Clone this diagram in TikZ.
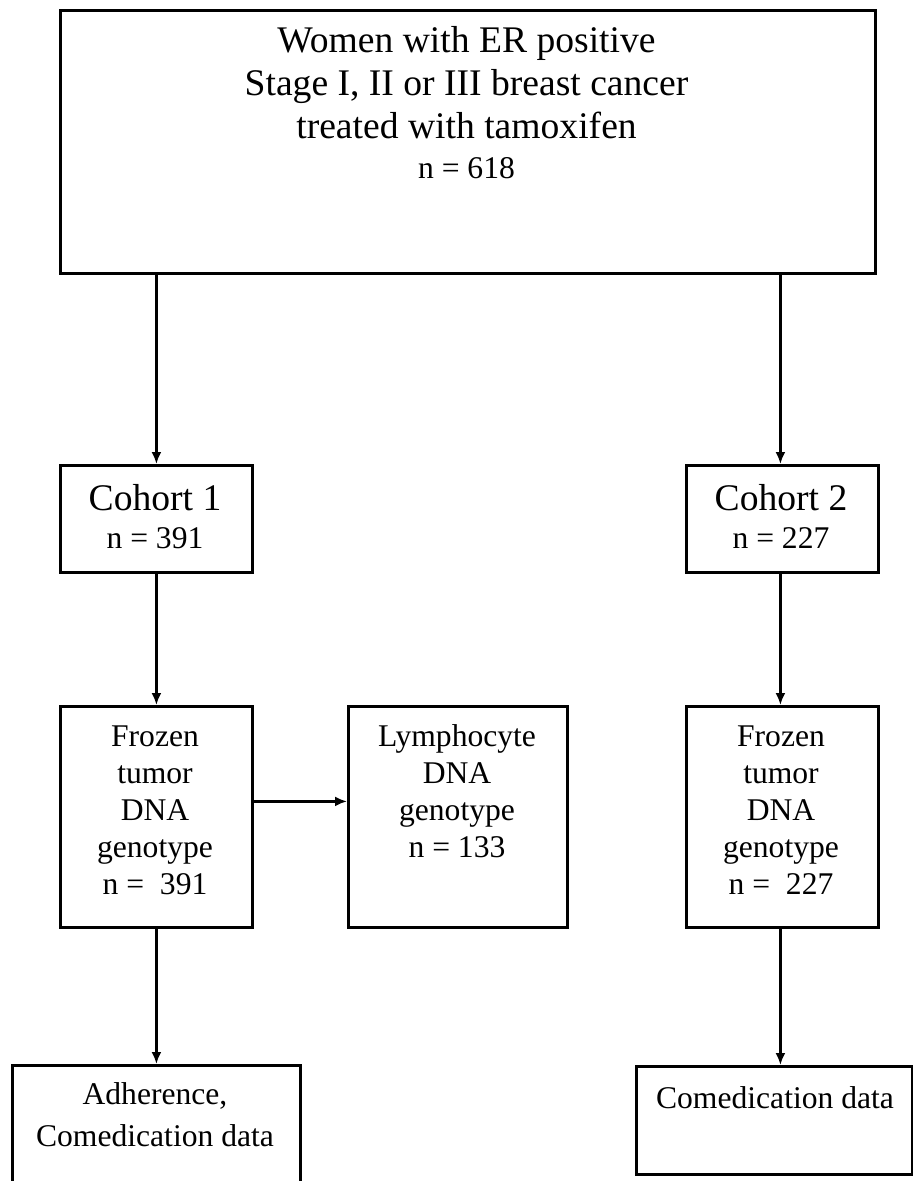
\documentclass[tikz,border=0pt]{standalone}
\usepackage{fontspec}
\setmainfont{Liberation Serif}
\usetikzlibrary{arrows.meta}
\begin{document}
\begin{tikzpicture}[x=0.5pt,y=-0.5pt,
  box/.style={draw, line width=1.4pt, inner sep=0pt, anchor=north west},
  txt/.style={inner sep=0pt, anchor=north, align=center, font=\fontsize{15.8}{18.5}\selectfont},
  bigtxt/.style={inner sep=0pt, anchor=north, align=center, font=\fontsize{18.8}{21.5}\selectfont},
  arr/.style={-{Latex[length=6pt,width=5pt]}, line width=1.2pt}]
\clip (0,0) rectangle (913,1181);
% boxes
\node[box, minimum width=407.5pt, minimum height=131.5pt] (top) at (59,9) {};
\node[box, minimum width=96pt, minimum height=53.5pt] (c1) at (59,464) {};
\node[box, minimum width=96pt, minimum height=53.5pt] (c2) at (685,464) {};
\node[box, minimum width=96pt, minimum height=110.5pt] (f1) at (59,705) {};
\node[box, minimum width=109.5pt, minimum height=110.5pt] (lym) at (347,705) {};
\node[box, minimum width=96pt, minimum height=110.5pt] (f2) at (685,705) {};
\node[box, minimum width=144pt, minimum height=70pt] (adh) at (11,1064) {};
\node[box, minimum width=138pt, minimum height=54pt] (com) at (635,1065) {};
% texts
\node[bigtxt] (ttop) at (466.5,22) {\strut Women with ER positive\\ Stage I, II or III breast cancer\\ treated with tamoxifen\\[-1.5pt] {\fontsize{15.8}{18.5}\selectfont n = 618}};
\node[bigtxt, font=\fontsize{18.8}{19}\selectfont] (tc1) at (155,483.4) {\strut Cohort 1\\ {\fontsize{15.8}{18.5}\selectfont n = 391}};
\node[bigtxt, font=\fontsize{18.8}{19}\selectfont] (tc2) at (781,483.4) {\strut Cohort 2\\ {\fontsize{15.8}{18.5}\selectfont n = 227}};
\node[txt] (tf1) at (155,720) {\strut Frozen\\ tumor\\ DNA\\ genotype\\ n =\ \ 391};
\node[txt] (tlym) at (457,720) {\strut Lymphocyte\\ DNA\\ genotype\\ n = 133};
\node[txt] (tf2) at (781,720) {\strut Frozen\\ tumor\\ DNA\\ genotype\\ n =\ \ 227};
\node[txt, font=\fontsize{15.8}{21}\selectfont] (tadh) at (155,1074.6) {\strut Adherence,\\ Comedication data};
\node[txt] (tcom) at (775,1082) {\strut Comedication data};
% connectors
\draw[arr] (c1.north |- top.south) -- (c1.north);
\draw[arr] ([xshift=-1pt]c2.north |- top.south) -- ([xshift=-1pt]c2.north);
\draw[arr] (c1.south) -- (f1.north);
\draw[arr] ([xshift=-1pt]c2.south) -- ([xshift=-1pt]f2.north);
\draw[arr] (f1.south) -- (adh.north);
\draw[arr] ([xshift=-1pt]f2.south) -- ([xshift=-1pt]f2.south |- com.north);
\draw[arr] ([yshift=7.75pt]f1.east) -- ([yshift=7.75pt]lym.west);
\end{tikzpicture}
\end{document}
